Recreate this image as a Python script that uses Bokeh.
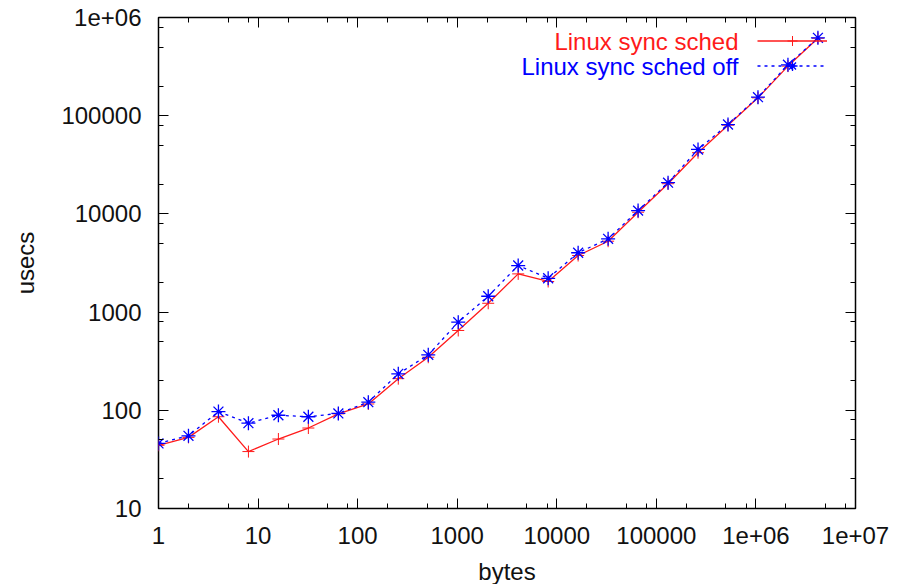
from bokeh.plotting import figure
from bokeh.models import (Range1d, FixedTicker, LogAxis, Legend, LegendItem, Label)
from bokeh.embed import file_html
from bokeh.resources import INLINE

# ---------------- data ----------------
bytes_ = [1, 2, 4, 8, 16, 32, 64, 128, 256, 512, 1024, 2048, 4096, 8192, 16384,
          32768, 65536, 131072, 262144, 524288, 1048576, 2097152, 4194304]
sync_sched = [44, 53, 86, 38, 51, 66, 92, 116, 210, 347, 650, 1230, 2450, 2050,
              3770, 5270, 10400, 20300, 42000, 80000, 152000, 320000, 615000]
sync_sched_off = [46, 55, 97, 74, 89, 86, 93, 121, 235, 367, 790, 1450, 2980, 2210,
                  4020, 5570, 10800, 20800, 45300, 81300, 154500, 330000, 621000]

x_ticks = [1, 10, 100, 1000, 10000, 100000, 1000000, 10000000]
x_tick_labels = ["1", "10", "100", "1000", "10000", "100000", "1e+06", "1e+07"]
y_ticks = [10, 100, 1000, 10000, 100000, 1000000]
y_tick_labels = ["10", "100", "1000", "10000", "100000", "1e+06"]
minor_steps = [2, 5, 8]

series_names = ["Linux sync sched", "Linux sync sched off"]

FONT = "Liberation Sans"
RED = "#ff1a1a"
BLUE = "#0000ff"

p = figure(x_axis_type="log", y_axis_type="log",
           x_range=Range1d(1, 1e7), y_range=Range1d(10, 1e6),
           frame_width=697, frame_height=491,
           min_border_left=158, min_border_top=17, min_border_right=41, min_border_bottom=70,
           output_backend="svg", toolbar_location=None)
p.xgrid.visible = False
p.ygrid.visible = False
p.outline_line_color = "black"
p.outline_line_width = 1.5
p.background_fill_color = "white"
p.border_fill_color = "white"

x_minor = [m * t for t in x_ticks[:-1] for m in minor_steps]
y_minor = [m * t for t in y_ticks[:-1] for m in minor_steps]
xt = FixedTicker(ticks=x_ticks, minor_ticks=x_minor)
yt = FixedTicker(ticks=y_ticks, minor_ticks=y_minor)


def style_axis(ax, labels=True):
    ax.axis_line_color = None
    ax.major_tick_in = 10
    ax.major_tick_out = 0
    ax.minor_tick_in = 5
    ax.minor_tick_out = 0
    ax.major_tick_line_color = "black"
    ax.minor_tick_line_color = "black"
    ax.major_tick_line_width = 1
    ax.minor_tick_line_width = 1
    ax.major_label_text_font = FONT
    ax.major_label_text_font_size = "24px" if labels else "1px"
    ax.major_label_text_color = "#111111"
    ax.axis_label_text_font = FONT
    ax.axis_label_text_font_size = "24px"
    ax.axis_label_text_font_style = "normal"
    ax.axis_label_text_color = "#111111"


xa = p.xaxis[0]
xa.ticker = xt
xa.major_label_overrides = {v: s for v, s in zip(x_ticks, x_tick_labels)}
xa.axis_label = "bytes"
style_axis(xa)
xa.major_label_standoff = 18
xa.axis_label_standoff = 11

ya = p.yaxis[0]
ya.ticker = yt
ya.major_label_overrides = {v: s for v, s in zip(y_ticks, y_tick_labels)}
ya.axis_label = "usecs"
style_axis(ya)
ya.major_label_standoff = 17
ya.axis_label_standoff = 19

top = LogAxis(ticker=xt)
style_axis(top, labels=False)
top.major_label_overrides = {v: "" for v in x_ticks}
top.major_label_standoff = 0
p.add_layout(top, "above")
right = LogAxis(ticker=yt)
style_axis(right, labels=False)
right.major_label_overrides = {v: "" for v in y_ticks}
right.major_label_standoff = 0
p.add_layout(right, "right")

r_line = p.line(bytes_, sync_sched, line_color=RED, line_width=1.3)
r_pts = p.scatter(bytes_, sync_sched, marker="cross", size=12, line_color=RED, line_width=1)
b_line = p.line(bytes_, sync_sched_off, line_color=BLUE, line_width=1.3, line_dash="3 4")
b_pts = p.scatter(bytes_, sync_sched_off, marker="asterisk", size=14, line_color=BLUE, line_width=1.3)

legend = Legend(items=[LegendItem(label=" ", renderers=[r_line, r_pts]),
                       LegendItem(label=" ", renderers=[b_line, b_pts])],
                location=(599, 430), glyph_width=70, glyph_height=25,
                label_width=1, label_height=1, label_standoff=0, label_text_font_size="1px",
                spacing=0, padding=0, margin=0,
                border_line_color=None, background_fill_alpha=0)
p.add_layout(legend, "center")

for i, (name, col) in enumerate(zip(series_names, [RED, BLUE])):
    p.add_layout(Label(x=580, y=467 - 24.5 * i, x_units="screen", y_units="screen",
                       text=name, text_align="right", text_baseline="middle",
                       text_color=col, text_font=FONT, text_font_size="24px"))

open("out.html", "w").write(file_html(p, INLINE))
